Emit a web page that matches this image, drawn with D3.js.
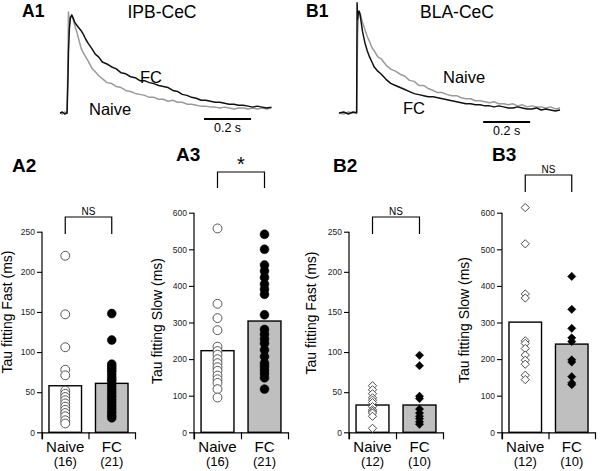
<!DOCTYPE html>
<html>
<head>
<meta charset="utf-8">
<script src="https://cdn.jsdelivr.net/npm/d3@7"></script>
<style>
  html, body { margin: 0; padding: 0; background: #fff; }
  svg { display: block; font-family: "Liberation Sans", Arial, Helvetica, sans-serif; }
</style>
</head>
<body>
<svg id="chart" width="600" height="471"></svg>
<script>
// ---------- DATA ----------
// Trace panels (time in ms, normalized amplitude)
const a1Time = [0,10,20,30,34,36,40,44,50,56,62,70,80,90,100,110,120,135,150,165,180,200,220,240,260,280,300,320,340,360,380,400,420,440,460,480,500,520,540,560,580,600,620,640,660,680,700,720,740,760,780,800,820,840,860,880,900];
const a1FC = [0.00,0.01,-0.01,0.00,0.35,0.62,0.86,0.97,1.00,0.97,
  0.93,0.90,0.87,0.84,0.80,0.75,0.71,0.66,0.60,0.57,
  0.52,0.50,0.47,0.45,0.41,0.40,0.37,0.36,0.33,0.33,
  0.31,0.30,0.28,0.27,0.26,0.23,0.22,0.19,0.18,0.16,
  0.15,0.13,0.13,0.12,0.11,0.11,0.10,0.09,0.09,0.08,
  0.08,0.07,0.06,0.07,0.06,0.05,0.06];
const a1Naive = [0.00,-0.01,0.01,0.00,0.60,1.03,0.90,0.97,1.00,0.95,
  0.90,0.84,0.75,0.66,0.61,0.57,0.53,0.46,0.42,0.38,
  0.35,0.31,0.30,0.27,0.26,0.23,0.22,0.20,0.19,0.18,
  0.16,0.16,0.14,0.14,0.12,0.13,0.11,0.11,0.09,0.09,
  0.08,0.07,0.07,0.06,0.06,0.05,0.06,0.05,0.04,0.05,
  0.05,0.04,0.05,0.04,0.05,0.04,0.05];

const b1Time = [0,20,40,60,75,77,79,82,85,90,95,100,110,120,130,140,150,165,180,200,220,240,260,280,300,320,340,360,380,400,420,440,460,480,500,520,540,560,580,600,620,640,660,680,700,720,740,760,780,800,820,840,860,880,900,920,940];
const b1FC = [0.00,0.01,-0.01,0.01,0.00,1.08,0.92,0.98,1.00,0.96,
  0.88,0.80,0.69,0.61,0.55,0.50,0.45,0.41,0.38,0.33,
  0.29,0.27,0.25,0.23,0.21,0.19,0.18,0.17,0.16,0.16,
  0.15,0.14,0.13,0.12,0.11,0.10,0.09,0.09,0.08,0.08,
  0.07,0.07,0.06,0.07,0.06,0.05,0.05,0.06,0.05,0.04,
  0.04,0.05,0.03,0.04,0.03,0.02,0.03];
const b1Naive = [0.00,-0.01,0.01,0.00,0.01,0.35,0.75,0.93,0.99,0.98,
  0.93,0.89,0.82,0.75,0.70,0.64,0.61,0.55,0.53,0.47,
  0.43,0.41,0.38,0.36,0.32,0.31,0.27,0.27,0.24,0.22,
  0.20,0.20,0.18,0.17,0.17,0.15,0.14,0.14,0.12,0.12,
  0.11,0.10,0.11,0.09,0.09,0.08,0.09,0.07,0.08,0.06,
  0.07,0.06,0.06,0.05,0.06,0.04,0.05];

// Bar panels
const groups = ["Naive", "FC"];
const a2Naive = [220,147,106,78,71,52,48,44,40,36,32,28,24,20,15,11];
const a2FC = [148,115,85,82,79,76,72,68,65,61,57,53,49,45,41,37,33,29,25,21,18];
const a2Means = [58, 61];
const a3Naive = [557,351,312,279,234,222,212,200,189,178,168,155,145,135,118,95];
const a3FC = [541,500,457,441,423,405,391,377,321,281,268,255,243,225,207,189,180,170,160,149,118];
const a3Means = [223, 304];
const b2Naive = [58,53,48,43,40,37,32,28,26,24,20,5];
const b2FC = [96,83,45,42,29,24,20,17,13,10];
const b2Means = [34, 34];
const b3Naive = [614,515,378,367,250,243,229,211,197,186,156,144];
const b3FC = [426,336,284,258,248,198,192,152,135,130];
const b3Means = [301, 241];
const fastTicks = [0,50,100,150,200,250];
const slowTicks = [0,100,200,300,400,500,600];

// ---------- DRAW ----------
const svg = d3.select("#chart");
svg.append("rect").attr("width", 600).attr("height", 471).attr("fill", "#fff");

function tracePanel(o) {
  const g = svg.append("g");
  const x = d3.scaleLinear().domain([0, o.tMax]).range(o.xRange);
  const y = d3.scaleLinear().domain([0, 1]).range(o.yRange);
  const line = d3.line().x((d, i) => x(o.time[i])).y(d => y(d));
  g.append("path").datum(o.naive).attr("d", line).attr("fill", "none")
    .attr("stroke", "#9a9a9a").attr("stroke-width", 1.5).attr("stroke-linejoin", "round");
  g.append("path").datum(o.fc).attr("d", line).attr("fill", "none")
    .attr("stroke", "#111").attr("stroke-width", 1.5).attr("stroke-linejoin", "round");
  // scale bar 0.2 s
  g.append("line").attr("x1", x(o.sbStart)).attr("x2", x(o.sbStart + 200))
    .attr("y1", o.sbY).attr("y2", o.sbY).attr("stroke", "#000").attr("stroke-width", 2);
  g.append("text").attr("x", x(o.sbStart + 100)).attr("y", o.sbY + 13)
    .attr("text-anchor", "middle").attr("font-size", 12.5).text("0.2 s");
  g.append("text").attr("x", o.labelX).attr("y", 17).attr("font-size", 17.5)
    .attr("font-weight", "bold").text(o.label);
  g.append("text").attr("x", o.titleX).attr("y", 18).attr("text-anchor", "middle")
    .attr("font-size", 17.5).text(o.title);
  o.notes.forEach(n => g.append("text").attr("x", n.x).attr("y", n.y)
    .attr("font-size", 16.5).text(n.t));
}

tracePanel({time: a1Time, fc: a1FC, naive: a1Naive, tMax: 900, xRange: [60, 271.5], yRange: [113, 15],
  sbStart: 613, sbY: 119, label: "A1", labelX: 22, title: "IPB-CeC", titleX: 162,
  notes: [{t: "FC", x: 140, y: 83}, {t: "Naive", x: 89, y: 115}]});
tracePanel({time: b1Time, fc: b1FC, naive: b1Naive, tMax: 940, xRange: [339, 560], yRange: [113, 11],
  sbStart: 613, sbY: 122, label: "B1", labelX: 306, title: "BLA-CeC", titleX: 457,
  notes: [{t: "Naive", x: 443, y: 83}, {t: "FC", x: 403, y: 114}]});

function barPanel(o) {
  const g = svg.append("g");
  const base = 432.3;
  const y = d3.scaleLinear().domain([0, o.yMax]).range([base, o.yTop]);
  const xl = d3.scaleLinear().domain([0, 2]).range([o.x0, o.x1]);
  const band = d3.scaleBand().domain(groups).range([o.x0, o.x1]).padding(0);
  const bw = band.bandwidth() * 0.70;
  const cx = c => band(c) + band.bandwidth() / 2;

  // y axis
  const ya = g.append("g").attr("transform", `translate(${o.x0},0)`)
    .call(d3.axisLeft(y).tickValues(o.ticks).tickSize(5).tickSizeOuter(0).tickPadding(2));
  ya.select(".domain").remove();
  ya.selectAll(".tick line").attr("stroke", "#000").attr("stroke-width", 1.1);
  ya.selectAll(".tick text").attr("font-size", 8.5).attr("fill", "#222")
    .attr("font-family", "Liberation Sans, Arial, sans-serif");
  g.append("line").attr("x1", o.x0).attr("x2", o.x0).attr("y1", y(o.yMax)).attr("y2", base + 7)
    .attr("stroke", "#000").attr("stroke-width", 1.2);

  // bars
  g.selectAll("rect.bar").data(groups).join("rect").attr("class", "bar")
    .attr("x", c => cx(c) - bw / 2).attr("width", bw)
    .attr("y", (c, i) => y(o.means[i])).attr("height", (c, i) => base - y(o.means[i]))
    .attr("fill", (c, i) => i === 0 ? "#fff" : "#bfbfbf")
    .attr("stroke", "#000").attr("stroke-width", 1.4);

  // x axis
  const xa = g.append("g").attr("transform", `translate(0,${base})`)
    .call(d3.axisBottom(xl).tickValues([0, 1, 2]).tickSize(7).tickSizeOuter(0).tickFormat(""));
  xa.select(".domain").attr("stroke", "#000").attr("stroke-width", 1.2);
  xa.selectAll(".tick line").attr("stroke", "#000").attr("stroke-width", 1.2);

  // points
  const sym = o.marker === "diamond"
    ? d3.symbol().type(d3.symbolSquare).size(34)
    : d3.symbol().type(d3.symbolCircle).size(62);
  const rot = o.marker === "diamond" ? " rotate(45)" : "";
  [[o.naive, "Naive"], [o.fc, "FC"]].forEach(([vals, c], gi) => {
    g.selectAll(null).data(vals).join("path")
      .attr("d", sym)
      .attr("transform", d => `translate(${cx(c)},${y(d)})${rot}`)
      .attr("fill", gi === 0 ? "#fff" : "#000")
      .attr("stroke", gi === 0 ? "#444" : "#000")
      .attr("stroke-width", gi === 0 ? 0.9 : 0.5);
  });

  // category labels
  groups.forEach((c, i) => {
    g.append("text").attr("x", cx(c)).attr("y", 452).attr("text-anchor", "middle")
      .attr("font-size", 15).text(c);
    g.append("text").attr("x", cx(c)).attr("y", 466).attr("text-anchor", "middle")
      .attr("font-size", 13).text(`(${o.n[i]})`);
  });

  // y title
  g.append("text").attr("transform", `translate(${o.titleX},${o.titleY}) rotate(-90)`)
    .attr("text-anchor", "middle").attr("font-size", 14).text(o.yTitle);

  // panel label
  g.append("text").attr("x", o.labelX).attr("y", o.labelY).attr("font-size", 19)
    .attr("font-weight", "bold").text(o.label);

  // significance bracket
  const bx1 = cx("Naive"), bx2 = cx("FC");
  g.append("path").attr("d", `M${bx1},${o.brY + o.brDrop}V${o.brY}H${bx2}V${o.brY + o.brDrop}`)
    .attr("fill", "none").attr("stroke", "#000").attr("stroke-width", 1.2);
  g.append("text").attr("x", (bx1 + bx2) / 2).attr("y", o.sigY).attr("text-anchor", "middle")
    .attr("font-size", o.sig === "*" ? 20 : 10).text(o.sig);
}

barPanel({x0: 42, x1: 135, yMax: 250, yTop: 231.7, ticks: fastTicks, naive: a2Naive, fc: a2FC, means: a2Means,
  marker: "circle", n: [16, 21], yTitle: "Tau fitting Fast (ms)", titleX: 12, titleY: 312,
  label: "A2", labelX: 12, labelY: 172, sig: "NS", sigY: 215, brY: 217, brDrop: 17});
barPanel({x0: 194, x1: 288, yMax: 600, yTop: 212.7, ticks: slowTicks, naive: a3Naive, fc: a3FC, means: a3Means,
  marker: "circle", n: [16, 21], yTitle: "Tau fitting Slow (ms)", titleX: 162, titleY: 321,
  label: "A3", labelX: 176, labelY: 161, sig: "*", sigY: 171, brY: 172, brDrop: 16});
barPanel({x0: 349, x1: 443, yMax: 250, yTop: 231.7, ticks: fastTicks, naive: b2Naive, fc: b2FC, means: b2Means,
  marker: "diamond", n: [12, 10], yTitle: "Tau fitting Fast (ms)", titleX: 316, titleY: 313,
  label: "B2", labelX: 333, labelY: 172, sig: "NS", sigY: 215, brY: 217, brDrop: 17});
barPanel({x0: 502, x1: 595, yMax: 600, yTop: 212.7, ticks: slowTicks, naive: b3Naive, fc: b3FC, means: b3Means,
  marker: "diamond", n: [12, 10], yTitle: "Tau fitting Slow (ms)", titleX: 469, titleY: 320,
  label: "B3", labelX: 492, labelY: 161, sig: "NS", sigY: 173, brY: 175, brDrop: 17});
</script>
</body>
</html>
